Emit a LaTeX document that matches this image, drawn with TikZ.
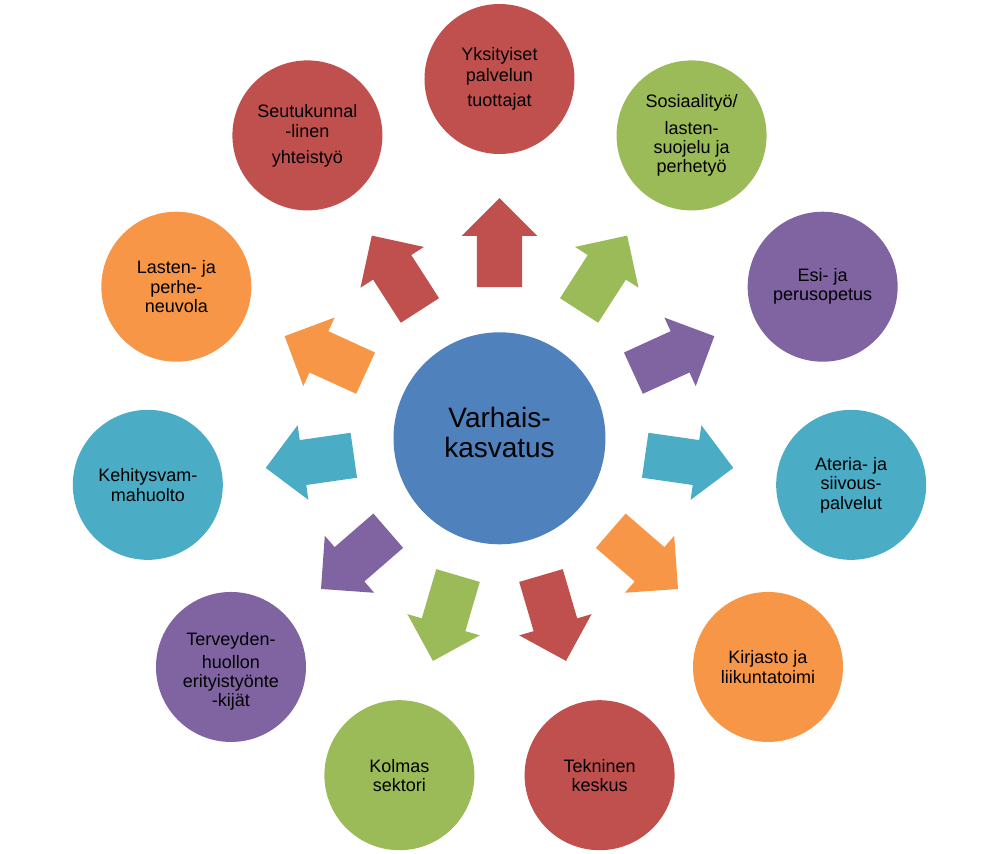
\documentclass[tikz,border=0pt]{standalone}
\usepackage{fontspec}
\setmainfont{Liberation Sans}
\usetikzlibrary{shapes.arrows}

\definecolor{cblue}{HTML}{4F81BD}
\definecolor{cred}{HTML}{C0504D}
\definecolor{cgreen}{HTML}{9BBB59}
\definecolor{cviolet}{HTML}{8064A2}
\definecolor{cteal}{HTML}{4BACC6}
\definecolor{corange}{HTML}{F79646}

\begin{document}
\begin{tikzpicture}
    [x=1pt, y=1pt,
     ball/.style={circle, minimum size=150pt, inner sep=0pt, align=center,
       font=\fontsize{18}{19}\selectfont},
     arrowbox/.style={single arrow, single arrow head extend=15pt,
       single arrow tip angle=90, inner xsep=0pt, inner ysep=22.5pt,
       minimum height=89pt, minimum width=75pt, anchor=tail}]

    \useasboundingbox (-499.5,-419.7) rectangle (499.5,434.3);

    \node[circle, fill=cblue, minimum size=212pt, inner sep=0pt, align=center,
      font=\fontsize{28}{30}\selectfont] (V) at (0,-4)
      {Varhais-\\kasvatus\rule[-12pt]{0pt}{0pt}};

    \node[ball, fill=cred] (P1) at (90:355.3) {Yksityiset\\[2pt]palvelun\\[6pt]tuottajat};
    \node[ball, fill=cgreen] (P2) at (57.273:355.3) {Sosiaality\"o/\\[8pt]lasten-\\suojelu ja\\perhety\"o};
    \node[ball, fill=cviolet] (P3) at (24.545:355.3) {Esi- ja\\perusopetus};
    \node[ball, fill=cteal] (P4) at (-8.182:355.3) {Ateria- ja\\siivous-\\[1pt]palvelut};
    \node[ball, fill=corange] (P5) at (-40.909:355.3) {Kirjasto ja\\[1pt]liikuntatoimi};
    \node[ball, fill=cred] (P6) at (-73.636:355.3) {Tekninen\\keskus};
    \node[ball, fill=cgreen] (P7) at (-106.364:355.3) {Kolmas\\sektori};
    \node[ball, fill=cviolet] (P8) at (-139.091:355.3)
      {\rule{0pt}{21.5pt}Terveyden-\\[4pt]huollon\\erityisty\"onte\\-kij\"at};
    \node[ball, fill=cteal] (P9) at (-171.818:355.3) {Kehitysvam-\\[1pt]mahuolto};
    \node[ball, fill=corange] (P10) at (155.455:355.3) {Lasten- ja\\[1pt]perhe-\\neuvola};
    \node[ball, fill=cred] (P11) at (122.727:355.3) {Seutukunnal\\[1pt]-linen\\[7pt]yhteisty\"o};

    \node[arrowbox, fill=cred, rotate=90] (N1) at (90:147) {};
    \node[arrowbox, fill=cgreen, rotate=57.273] (N2) at (57.273:147) {};
    \node[arrowbox, fill=cviolet, rotate=24.545] (N3) at (24.545:147) {};
    \node[arrowbox, fill=cteal, rotate=-8.182] (N4) at (-8.182:147) {};
    \node[arrowbox, fill=corange, rotate=-40.909] (N5) at (-40.909:147) {};
    \node[arrowbox, fill=cred, rotate=-73.636] (N6) at (-73.636:147) {};
    \node[arrowbox, fill=cgreen, rotate=-106.364] (N7) at (-106.364:147) {};
    \node[arrowbox, fill=cviolet, rotate=-139.091] (N8) at (-139.091:147) {};
    \node[arrowbox, fill=cteal, rotate=-171.818] (N9) at (-171.818:147) {};
    \node[arrowbox, fill=corange, rotate=155.455] (N10) at (155.455:147) {};
    \node[arrowbox, fill=cred, rotate=122.727] (N11) at (122.727:147) {};
\end{tikzpicture}
\end{document}
